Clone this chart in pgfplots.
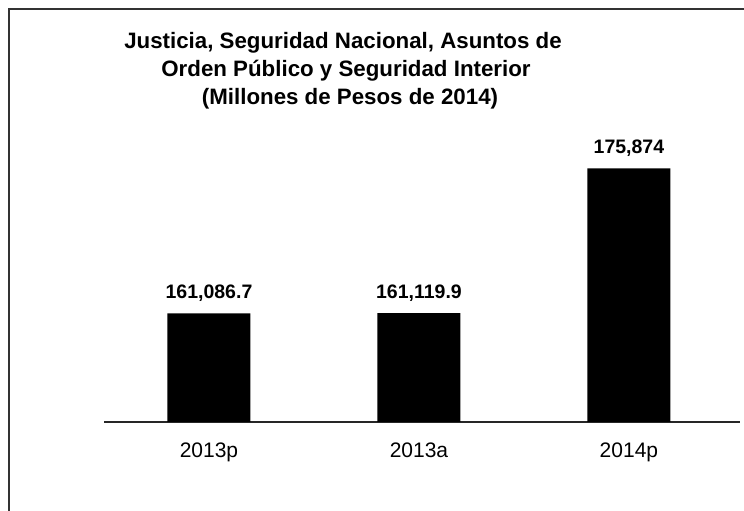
\documentclass[border=0pt]{standalone}
\usepackage{fontspec}
\setmainfont{Liberation Sans}
\usepackage{pgfplots}
\pgfplotsset{compat=1.18}
\begin{document}
\begin{tikzpicture}
\useasboundingbox (0pt,0pt) rectangle (744pt,511pt);
\fill[white] (0pt,0pt) rectangle (744pt,511pt);
% frame
\draw[line width=1.2pt, black!80] (9pt,0pt) -- (9pt,502pt) -- (744pt,502pt);
% title
\begin{scope}[every node/.style={anchor=base, inner sep=0pt, font=\fontsize{22.3}{26}\selectfont\bfseries}]
\node at (343pt,462pt) {Justicia, Seguridad Nacional, Asuntos de};
\node at (346pt,434pt) {Orden Público y Seguridad Interior};
\node at (350pt,406pt) {(Millones de Pesos de 2014)};
\end{scope}
\begin{axis}[
  at={(104pt,89pt)}, anchor=south west,
  scale only axis,
  width=636pt, height=294pt,
  xmin=-0.5, xmax=2.529,
  ymin=150000, ymax=180000,
  axis x line*=bottom, axis y line=none,
  ytick=\empty,
  xtick={0,1,2},
  xticklabels={2013p,2013a,2014p},
  major tick length=0pt,
  x axis line style={line width=1.5pt, black!85},
  xticklabel style={font=\fontsize{21}{21}\selectfont, anchor=base, inner sep=0pt, yshift=-36pt},
  ybar, bar width=83pt,
  nodes near coords,
  point meta=explicit symbolic,
  every node near coord/.append style={font=\fontsize{19.5}{20}\selectfont\bfseries, anchor=base, inner sep=0pt, yshift=15pt},
]
\addplot[fill=black, draw=none] coordinates {
  (0,161086.7) [161,086.7]
  (1,161119.9) [161,119.9]
  (2,175874) [175,874]
};
\end{axis}
\end{tikzpicture}
\end{document}
